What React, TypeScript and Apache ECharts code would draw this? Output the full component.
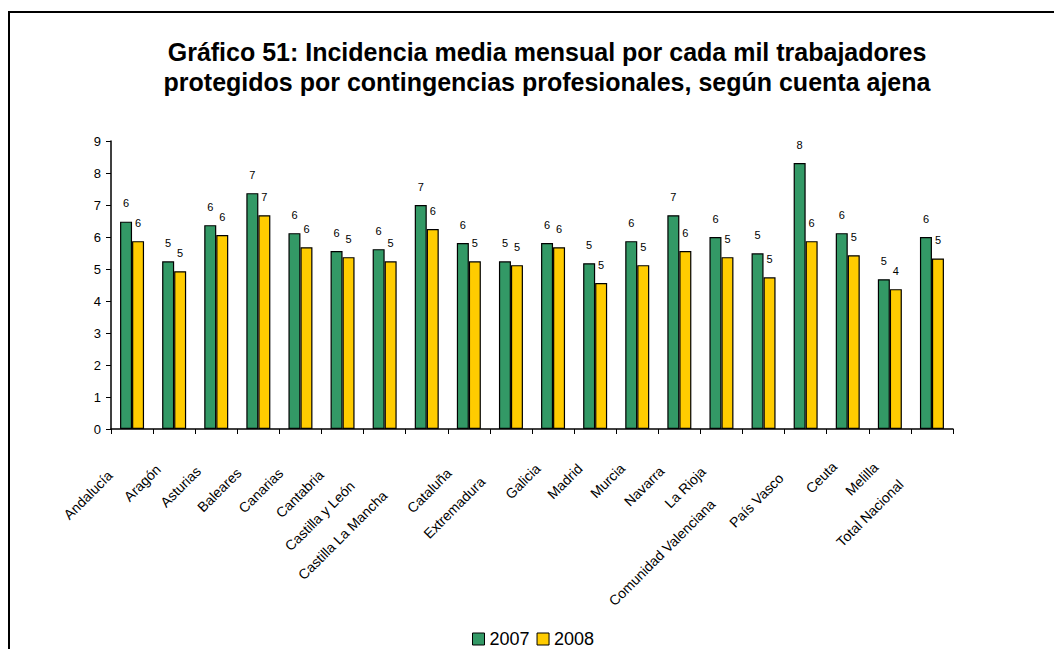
import React, { useEffect, useRef } from "react";
import * as echarts from "echarts";

const categories = [
  "Andalucía", "Aragón", "Asturias", "Baleares", "Canarias", "Cantabria",
  "Castilla y León", "Castilla La Mancha", "Cataluña", "Extremadura", "Galicia",
  "Madrid", "Murcia", "Navarra", "La Rioja", "Comunidad Valenciana",
  "País Vasco", "Ceuta", "Melilla", "Total Nacional",
];
const values2007 = [
  6.48, 5.24, 6.37, 7.37, 6.12, 5.56, 5.62, 7.00, 5.81, 5.24,
  5.81, 5.18, 5.87, 6.68, 6.00, 5.49, 8.31, 6.12, 4.68, 6.00,
];
const values2008 = [
  5.87, 4.93, 6.06, 6.68, 5.68, 5.37, 5.24, 6.25, 5.24, 5.12,
  5.68, 4.56, 5.12, 5.56, 5.37, 4.74, 5.87, 5.43, 4.37, 5.33,
];
const seriesNames = ["2007", "2008"];
const yTicks = { min: 0, max: 9, interval: 1 };
const titleText =
  "Gráfico 51: Incidencia media mensual por cada mil trabajadores\nprotegidos por contingencias profesionales, según cuenta ajena";

const FONT = "'Liberation Sans', Arial, sans-serif";

function measure(text: string, font: string): number {
  const c = document.createElement("canvas").getContext("2d");
  if (!c) return text.length * 6;
  c.font = font;
  return c.measureText(text).width;
}

export default function App() {
  const ref = useRef<HTMLDivElement>(null);
  useEffect(() => {
    if (!ref.current) return;
    const chart = echarts.init(ref.current, undefined, { renderer: "svg" });
    const labelFont = "14px 'Liberation Sans'";
    const catData = categories.map((c) => ({
      value: c,
      textStyle: { padding: [0, measure(c, labelFont) / 2, 0, 0] },
    }));
    const barLabel = {
      show: true,
      position: "top" as const,
      distance: 13,
      fontSize: 11,
      fontFamily: FONT,
      color: "#000",
      formatter: (p: any) => String(Math.round(p.value)),
    };
    chart.setOption({
      animation: false,
      backgroundColor: "#fff",
      title: {
        text: titleText,
        left: 542,
        top: 32,
        textAlign: "center",
        textStyle: {
          fontFamily: FONT,
          fontSize: 25,
          fontWeight: "bold",
          color: "#000",
          lineHeight: 30,
        },
      },
      legend: {
        data: seriesNames,
        left: 467,
        top: 625,
        itemWidth: 12,
        itemHeight: 12,
        itemGap: 7,
        icon: "rect",
        itemStyle: { borderColor: "#000", borderWidth: 1 },
        textStyle: { fontFamily: FONT, fontSize: 18, lineHeight: 18, color: "#000" },
      },
      grid: { left: 111, right: 101, top: 141, bottom: 220 },
      xAxis: {
        type: "category",
        data: catData,
        boundaryGap: true,
        axisLine: { lineStyle: { color: "#000", width: 1.5 } },
        axisTick: { show: true, length: 5, lineStyle: { color: "#000" } },
        axisLabel: {
          interval: 0,
          rotate: 45,
          margin: 22,
          fontFamily: FONT,
          fontSize: 14,
          color: "#000",
        },
      },
      yAxis: {
        type: "value",
        min: yTicks.min,
        max: yTicks.max,
        interval: yTicks.interval,
        axisLine: { show: true, lineStyle: { color: "#000", width: 1.5 } },
        axisTick: { show: true, length: 5, lineStyle: { color: "#000" } },
        axisLabel: { fontFamily: FONT, fontSize: 13, color: "#000", margin: 10 },
        splitLine: { show: false },
      },
      series: [
        {
          name: seriesNames[0],
          type: "bar",
          data: values2007,
          barGap: "0%",
          barCategoryGap: "43%",
          itemStyle: { color: "#339966", borderColor: "#000", borderWidth: 1.2 },
          label: barLabel,
        },
        {
          name: seriesNames[1],
          type: "bar",
          data: values2008,
          itemStyle: { color: "#FFCC00", borderColor: "#000", borderWidth: 1.2 },
          label: barLabel,
        },
      ],
      graphic: [
        {
          type: "rect",
          shape: { x: 9, y: 12, width: 1100, height: 700 },
          style: { fill: "none", stroke: "#000", lineWidth: 2 },
          silent: true,
        },
      ],
    });
    return () => chart.dispose();
  }, []);
  return (
    <div
      ref={ref}
      style={{ position: "absolute", left: 0, top: 0, width: 1054, height: 649 }}
    />
  );
}
